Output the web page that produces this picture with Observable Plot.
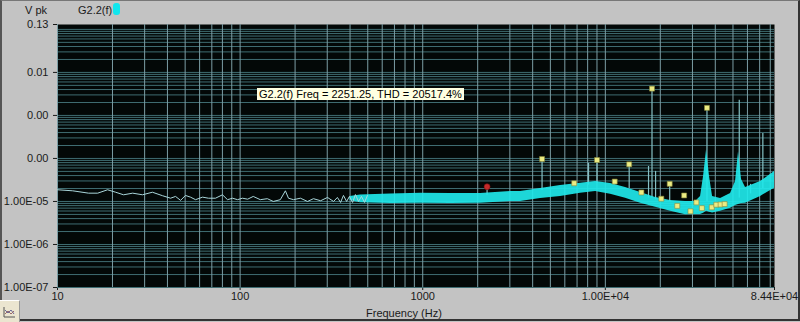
<!DOCTYPE html>
<html><head><meta charset="utf-8">
<script src="https://cdn.jsdelivr.net/npm/d3@7"></script>
<script src="https://cdn.jsdelivr.net/npm/@observablehq/plot@0.6"></script>
<style>
body{margin:0;background:#c3c3c3;}
#wrap{position:relative;width:800px;height:322px;overflow:hidden;background:#c3c3c3;font-family:"Liberation Sans",Arial,sans-serif;font-size:11px;color:#1a1a1a;}
#wrap svg{position:absolute;left:0;top:0;}
.abs{position:absolute;white-space:nowrap;line-height:12px;}
</style></head><body><div id="wrap"></div>
<script>
const seriesName = "G2.2(f)";
const yLabel = "V pk";
const xLabel = "Frequency (Hz)";
const tipText = "G2.2(f) Freq = 2251.25, THD = 20517.4%";

const xTicks = [10, 100, 1000, 10000, 84400];
const xTickLabels = ["10", "100", "1000", "1.00E+04", "8.44E+04"];
const yTicks = [1e-7, 1e-6, 1e-5, 1e-4, 1e-3, 1e-2, 0.13];
const yTickLabels = ["1.00E-07", "1.00E-06", "1.00E-05", "0.00", "0.00", "0.01", "0.13"];

// low-frequency trace (Hz, V pk)
const lowFreq = [10,12.1,14.8,16.6,18.8,20.8,23,25.8,29.2,33.1,37.6,41.6,44.3,47.2,50.2,53.5,57,62.3,67.1,73.3,80.1,85.3,90.9,96.8,103,110,118,129,141,152,166,177,184,196,214,234,252,276,301,325,341,355,368,383,397,413,428,445,462,480,498];
const lowAmp = [1.87e-5,1.77e-5,1.56e-5,1.56e-5,1.87e-5,1.64e-5,1.43e-5,1.56e-5,1.43e-5,1.64e-5,1.36e-5,1.19e-5,1.31e-5,1.06e-5,1.38e-5,1.26e-5,1.10e-5,1.26e-5,1.19e-5,1.19e-5,1.43e-5,1.10e-5,1.19e-5,1.10e-5,1.19e-5,1.13e-5,1.31e-5,1.10e-5,1.16e-5,1.00e-5,1.10e-5,1.77e-5,1.19e-5,1.10e-5,1.19e-5,1.00e-5,1.16e-5,1.04e-5,1.24e-5,1.00e-5,1.24e-5,9.5e-6,1.38e-5,1.0e-5,1.31e-5,9.5e-6,1.45e-5,1.0e-5,1.31e-5,9.5e-6,1.38e-5];

// dense noise band (upper / lower envelope)
const bandFreq = [400,456,666,973,1420,2073,3025,3434,4417,5684,7313,8838,10680,12900,15590,18840,22760,27500,31190,33220,34500,35830,37200,38650,42760,48500,51640,53630,55700,58580,70790,84400];
const bandUpper = [1.30e-5,1.42e-5,1.49e-5,1.56e-5,1.53e-5,1.53e-5,1.70e-5,1.70e-5,2.00e-5,2.35e-5,2.65e-5,2.90e-5,2.61e-5,2.11e-5,1.62e-5,1.24e-5,1.06e-5,1.00e-5,1.00e-5,1.31e-5,3.79e-5,1.60e-4,3.79e-5,1.31e-5,1.17e-5,1.53e-5,2.90e-5,1.44e-4,3.23e-5,2.11e-5,2.90e-5,4.95e-5];
const bandLower = [1.05e-5,9.3e-6,9.0e-6,9.1e-6,9.0e-6,9.1e-6,1.0e-5,1.0e-5,1.17e-5,1.31e-5,1.56e-5,1.70e-5,1.48e-5,1.19e-5,9.1e-6,7.3e-6,5.9e-6,4.9e-6,5.0e-6,5.0e-6,5.3e-6,5.9e-6,5.6e-6,5.4e-6,5.9e-6,7.0e-6,8.1e-6,8.5e-6,9.0e-6,9.1e-6,1.31e-5,2.03e-5];

// narrow spectral spikes
const stemFreq = [2251.25,4502.5,6753.75,8091,9005,11256.25,13507.5,17240,18010,18840,22512.5,36020,54120,62410,72870];
const stemTop = [2.2e-5,9.7e-5,2.65e-5,7.7e-5,9.2e-5,2.9e-5,7.3e-5,6.5e-5,4.2e-3,5.0e-5,2.57e-5,1.5e-3,2.26e-3,2.5e-5,3.8e-4];
const stemBase = [1.4e-5,1.8e-5,2.2e-5,2.4e-5,2.6e-5,2.4e-5,2.0e-5,1.2e-5,1.2e-5,1.1e-5,1.0e-5,1.0e-5,1.2e-5,1.5e-5,2.0e-5];

// harmonic markers
const harmFreq = [4502.5,6753.75,9005,11256.25,13507.5,15758.75,18010,20261.25,22512.5,24763.75,27015,29266.25,31517.5,33768.75,36020,38271.25,40522.5,42773.75,45025];
const harmAmp = [9.7e-5,2.65e-5,9.2e-5,2.9e-5,7.3e-5,1.62e-5,4.2e-3,1.16e-5,2.57e-5,7.9e-6,1.38e-5,5.9e-6,9.5e-6,7.0e-6,1.5e-3,7.3e-6,8.4e-6,8.5e-6,8.7e-6];

// fundamental marker
const fundFreq = [2251.25];
const fundAmp = [2.2e-5];

const low = lowFreq.map((f, i) => ({f, v: lowAmp[i]}));
const band = bandFreq.map((f, i) => ({f, hi: bandUpper[i], lo: bandLower[i]}));
const stems = stemFreq.map((f, i) => ({f, top: stemTop[i], base: stemBase[i]}));
const harm = harmFreq.map((f, i) => ({f, v: harmAmp[i]}));
const fund = fundFreq.map((f, i) => ({f, v: fundAmp[i]}));
const xLab = xTicks.map((t, i) => ({t, label: xTickLabels[i]}));

const xGrid = [];
for (let d = 10; d <= 10000; d *= 10) for (let k = 1; k <= 9; k++) if (k * d <= 84400) xGrid.push(k * d);
const yGrid = [];
for (let e = -7; e <= -1; e++) for (let k = 1; k <= 9; k++) { const v = k * Math.pow(10, e); if (v <= 0.13) yGrid.push(v); }

const yFmt = new Map(yTicks.map((t, i) => [t, yTickLabels[i]]));

const chart = Plot.plot({
  width: 800, height: 322,
  marginLeft: 57, marginRight: 26, marginTop: 24, marginBottom: 35,
  style: {background: "transparent", fontFamily: "Liberation Sans, Arial, sans-serif", fontSize: "11px", color: "#1a1a1a"},
  x: {type: "log", domain: [10, 84400.5], ticks: xTicks, tickFormat: () => null, label: null, tickSize: 3, tickPadding: 3},
  y: {type: "log", domain: [1e-7, 0.13], ticks: yTicks, tickFormat: d => yFmt.get(d), label: null, tickSize: 4, tickPadding: 5},
  marks: [
    Plot.frame({fill: "#030807", stroke: null}),
    Plot.ruleY(yGrid, {stroke: "#3f6d72", strokeWidth: 1}),
    Plot.ruleX(xGrid, {stroke: "#7c9ea5", strokeWidth: 1}),
    Plot.ruleX(stems, {x: "f", y1: "base", y2: "top", stroke: "#86c0c4", strokeWidth: 1.2}),
    Plot.areaY(band, {x: "f", y1: "lo", y2: "hi", fill: "#1fe8ea", fillOpacity: 0.92, curve: "linear"}),
    Plot.line(low, {x: "f", y: "v", stroke: "#a9d6da", strokeWidth: 1}),
    Plot.dot(harm, {x: "f", y: "v", symbol: "square", r: 2.8, fill: "#ecec84", stroke: "#8a8a3a", strokeWidth: 0.6}),
    Plot.dot(fund, {x: "f", y: "v", r: 3, fill: "#c42a2a", stroke: "#7a1010", strokeWidth: 0.6}),
    Plot.text(xLab, {x: "t", text: "label", frameAnchor: "bottom", dy: 12, fill: "#1a1a1a", fontSize: 11})
  ]
});
const wrap = document.getElementById("wrap");
wrap.appendChild(chart);

function addDiv(text, css) {
  const d = document.createElement("div");
  d.className = "abs";
  d.textContent = text;
  Object.assign(d.style, css);
  wrap.appendChild(d);
  return d;
}
addDiv(yLabel, {left: "25px", top: "4px"});
addDiv(seriesName, {left: "78px", top: "4px"});
addDiv("", {left: "113px", top: "3px", width: "7px", height: "12px", background: "#10e6ee", borderRadius: "3px"});
addDiv(xLabel, {left: "366px", top: "307px"});
addDiv(tipText, {left: "257px", top: "88px", height: "12px", padding: "0 2px", background: "#ffffe1", color: "#000"});
addDiv("", {left: "0px", top: "0px", width: "796px", height: "318px", borderTop: "1px solid #777", borderLeft: "2px solid #555", borderRight: "2px solid #333", borderBottom: "2px solid #333"});
const icon = addDiv("", {left: "0px", top: "300px", width: "19px", height: "21px", background: "#ebe5d0", borderRight: "1px solid #999", borderTop: "1px solid #fff"});
icon.innerHTML = '<svg width="19" height="21"><polyline points="4,6 4,16 15,16" fill="none" stroke="#555"/><polyline points="5,9 8,12 11,9 14,13" fill="none" stroke="#6a6a9a"/><polyline points="5,13 8,10 11,13 14,10" fill="none" stroke="#9a6a6a"/></svg>';
</script></body></html>
